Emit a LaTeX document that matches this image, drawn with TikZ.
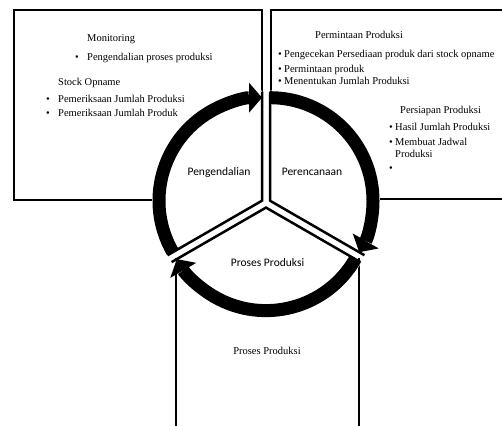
\documentclass[tikz,border=0pt]{standalone}
\usepackage{fontspec}
\setmainfont{Liberation Serif}
\newfontfamily\calib{Carlito}
\usetikzlibrary{arrows.meta,calc}
\begin{document}
\begin{tikzpicture}[x=1pt,y=1pt,
  txt/.style={anchor=west,inner sep=0pt,text height=7pt,text depth=2pt,font=\fontsize{10.5}{12}\selectfont},
  bul/.style={anchor=center,inner sep=0pt,text height=7pt,text depth=2pt,font=\fontsize{10.5}{12}\selectfont},
  lbl/.style={inner sep=0pt,text height=8pt,text depth=2pt,font=\calib\fontsize{11.5}{13}\selectfont},
  boxline/.style={line width=2pt},
  edgeline/.style={line width=2.5pt,line join=miter},
  band/.style={line width=13pt,-{Triangle[length=13pt,width=30pt,line width=0pt]}}]
\useasboundingbox (0,0) rectangle (502,425);
% boxes
\draw[boxline] (14,225) rectangle (262,415);
\draw[boxline] (512,226) -- (271,226) -- (271,415) -- (512,415);
\draw[boxline] (176,167) -- (176,-5);
\draw[boxline] (359,167) -- (359,-5);
% apexes
\coordinate (A) at (262.0,224.3);
\coordinate (B) at (270.0,224.3);
\coordinate (C) at (266.0,217.4);
% white sectors
\fill[white] (A) -- ($(A)+(210:110)$) arc[start angle=210,end angle=90,radius=110] -- cycle;
\fill[white] (B) -- ($(B)+(90:110)$) arc[start angle=90,end angle=-30,radius=110] -- cycle;
\fill[white] (C) -- ($(C)+(-30:110)$) arc[start angle=-30,end angle=-150,radius=110] -- cycle;
% edges
\draw[edgeline] ($(A)+(90:109)$) -- (A) -- ($(A)+(210:109)$);
\draw[edgeline] ($(B)+(90:109)$) -- (B) -- ($(B)+(-30:109)$);
\draw[edgeline] ($(C)+(-30:109)$) -- (C) -- ($(C)+(210:109)$);
% arcs
\draw[band] ($(A)+(210:103)$) arc[start angle=210,end angle=90,radius=103];
\draw[band] ($(B)+(90:103)$) arc[start angle=90,end angle=-30,radius=103];
\draw[band] ($(C)+(-30:103)$) arc[start angle=-30,end angle=-150,radius=103];
% sector labels
\node[lbl] (pg) at (219,252) {Pengendalian};
\node[lbl] (pr) at (312,252) {Perencanaan};
\node[lbl] (pp) at (267.5,161) {Proses Produksi};
% left box text
\node[txt] (m1) at (87,386) {Monitoring};
\node[bul] (m1b) at (77,367) {•};
\node[txt] (m1t) at (87,367) {Pengendalian proses produksi};
\node[txt] (s1) at (58,342) {Stock Opname};
\node[bul] (s1b) at (48,325) {•};
\node[txt] (s1t) at (58,325) {Pemeriksaan Jumlah Produksi};
\node[bul] (s2b) at (48,311) {•};
\node[txt] (s2t) at (58,311) {Pemeriksaan Jumlah Produk};
% right box text
\node[txt] (r1) at (315,389) {Permintaan Produksi};
\node[bul] (r1b) at (280,370) {•};
\node[txt] (r1t) at (284,370) {Pengecekan Persediaan produk dari stock opname};
\node[bul] (r2b) at (280,355) {•};
\node[txt] (r2t) at (284,355) {Permintaan produk};
\node[bul] (r3b) at (280,343) {•};
\node[txt] (r3t) at (284,343) {Menentukan Jumlah Produksi};
\node[txt] (q1) at (400,314) {Persiapan Produksi};
\node[bul] (q1b) at (391,297) {•};
\node[txt] (q1t) at (395,297) {Hasil Jumlah Produksi};
\node[bul] (q2b) at (391,282) {•};
\node[txt] (q2t) at (395,282) {Membuat Jadwal};
\node[txt] (q2c) at (395,270) {Produksi};
\node[bul] (q3b) at (391,256) {•};
% bottom box text
\node[txt,anchor=center] (bp) at (267,73) {Proses Produksi};
\end{tikzpicture}
\end{document}
